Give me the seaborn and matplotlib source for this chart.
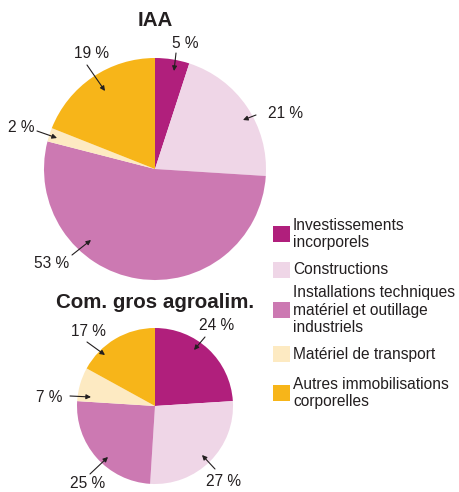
import matplotlib
matplotlib.use("Agg")
import matplotlib.pyplot as plt
from matplotlib.patches import Rectangle
import seaborn as sns

# data
categories = ["Investissements\nincorporels", "Constructions",
              "Installations techniques\nmatériel et outillage\nindustriels",
              "Matériel de transport", "Autres immobilisations\ncorporelles"]
iaa = [5, 21, 53, 2, 19]
gros = [24, 27, 25, 7, 17]
titles = ["IAA", "Com. gros agroalim."]

colors = sns.color_palette(["#B01F7C", "#EFD6E7", "#CC79B2", "#FDEAC2", "#F7B519"])

sns.set_theme(style="white")
plt.rcParams["font.family"] = ["Liberation Sans", "DejaVu Sans"]
ink = "#231f20"

W, H = 459, 492
fig = plt.figure(figsize=(W / 100, H / 100), dpi=100)
ax = fig.add_axes([0, 0, 1, 1])

def Y(y):
    return H - y

# (center, radius, title y) in pixel coords from top-left
pies = [(iaa, (155, 169), 111, 21), (gros, (155, 406), 78, 302)]
# label text pos, arrow start, arrow tip
labels = [
    [((185, 43), (176, 53), (174, 71)),
     ((285, 114), (256, 115), (243, 120)),
     ((52, 264), (72, 255), (91, 240)),
     ((21, 128), (37, 131), (57, 138)),
     ((92, 53), (87, 65), (105, 91))],
    [((217, 326), (205, 337), (194, 350)),
     ((223, 482), (215, 469), (202, 455)),
     ((88, 483), (90, 474), (108, 457)),
     ((49, 397), (70, 396), (91, 397)),
     ((88, 331), (87, 342), (105, 355))],
]

for (vals, (cx, cy), r, ty), title, labs in zip(pies, titles, labels):
    ax.pie(vals, colors=colors, startangle=90, counterclock=False,
           center=(cx, Y(cy)), radius=r, frame=True,
           wedgeprops=dict(linewidth=0))
    ax.text(cx, Y(ty), title, ha="center", va="center", fontsize=14.8,
            fontweight="bold", color=ink)
    for v, (tp, a0, a1) in zip(vals, labs):
        ax.text(tp[0], Y(tp[1]), f"{v} %", ha="center", va="center",
                fontsize=11.2, color=ink)
        ax.annotate("", xy=(a1[0], Y(a1[1])), xytext=(a0[0], Y(a0[1])),
                    arrowprops=dict(arrowstyle="-|>", lw=0.8, color=ink,
                                    mutation_scale=7, shrinkA=0, shrinkB=0))

# legend
leg_y = [234, 270, 310, 354, 393]
for c, lab, y in zip(colors, categories, leg_y):
    ax.add_patch(Rectangle((273, Y(y) - 8), 17, 16, color=c, lw=0))
    ax.text(293, Y(y), lab, ha="left", va="center", fontsize=11.2,
            color=ink, linespacing=1.2)

ax.set_xlim(0, W)
ax.set_ylim(0, H)
ax.set_aspect("equal")
ax.axis("off")

fig.savefig("out.png", dpi=100)
